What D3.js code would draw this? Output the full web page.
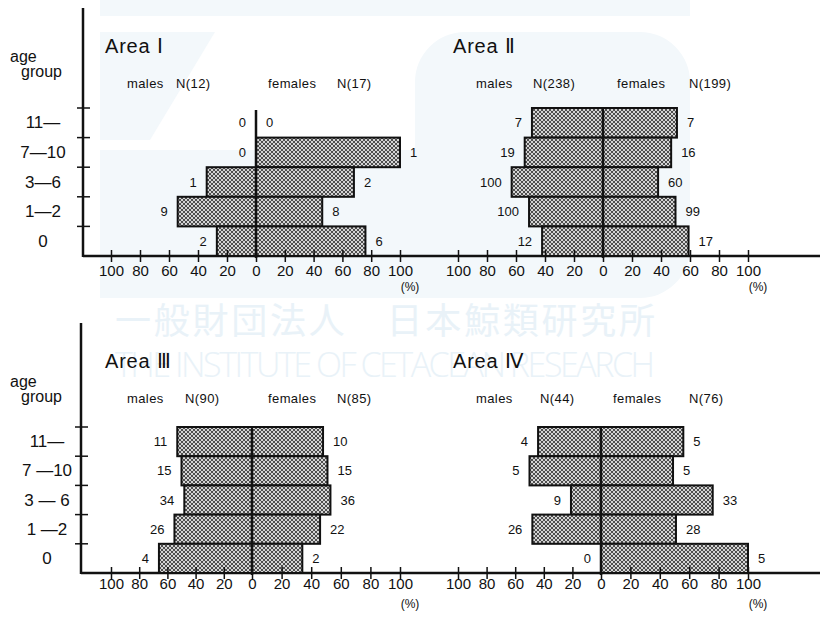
<!DOCTYPE html>
<html>
<head>
<meta charset="utf-8">
<script src="https://cdn.jsdelivr.net/npm/d3@7"></script>
<style>
  body { margin: 0; background: #fff; }
  svg { display: block; }
  text { fill: #111; font-family: "Liberation Sans", Arial, sans-serif; }
</style>
</head>
<body>
<script>
// age groups, oldest (top row) first
var ageKeys = ["11", "7-10", "3-6", "1-2", "0"];
var ageLabelsUpper = ["11—", "7—10", "3—6", "1—2", "0"];
var ageLabelsLower = ["11—", "7 —10", "3 — 6", "1 —2", "0"];

var areaNames = ["Area Ⅰ", "Area Ⅱ", "Area Ⅲ", "Area Ⅳ"];
var maleN = [12, 238, 90, 44];
var femaleN = [17, 199, 85, 76];

// percentages (bar lengths)
var malePct1 = [0, 0, 34, 54, 27];
var femalePct1 = [0, 100, 68, 46, 76];
var malePct2 = [49, 54, 63, 51, 42];
var femalePct2 = [51, 47, 38, 50, 59];
var malePct3 = [53, 50, 48, 55, 66];
var femalePct3 = [48, 51, 53, 46, 34];
var malePct4 = [44, 50, 21, 48, 0];
var femalePct4 = [56, 49, 76, 51, 100];

// numbers of animals written beside the bars
var maleCount1 = [0, 0, 1, 9, 2];
var femaleCount1 = [0, 1, 2, 8, 6];
var maleCount2 = [7, 19, 100, 100, 12];
var femaleCount2 = [7, 16, 60, 99, 17];
var maleCount3 = [11, 15, 34, 26, 4];
var femaleCount3 = [10, 15, 36, 22, 2];
var maleCount4 = [4, 5, 9, 26, 0];
var femaleCount4 = [5, 5, 33, 28, 5];

var pctTicks = [-100, -80, -60, -40, -20, 0, 20, 40, 60, 80, 100];

var svgWidth = 820;
var svgHeight = 619;

var svg = d3.select("body")
  .append("svg")
  .attr("width", svgWidth)
  .attr("height", svgHeight);

// hatched fill for the bars
var pat = svg.append("defs").append("pattern")
  .attr("id", "stip")
  .attr("width", 4)
  .attr("height", 4)
  .attr("patternUnits", "userSpaceOnUse");
pat.append("rect").attr("width", 4).attr("height", 4).attr("fill", "#d4d4d4");
pat.append("path")
  .attr("d", "M0,4L4,0M-1,1L1,-1M3,5L5,3M0,0L4,4M-1,3L1,5M3,-1L5,1")
  .attr("stroke", "#222")
  .attr("stroke-width", 0.75);

// faint watermark in the scan
var wm = svg.append("g").attr("fill", "#f3f8fb");
wm.append("rect").attr("x", 100).attr("y", 0).attr("width", 590).attr("height", 16);
wm.append("polygon").attr("points", "100,32 215,32 150,140 100,140");
wm.append("rect").attr("x", 100).attr("y", 150).attr("width", 370).attr("height", 148);
wm.append("rect").attr("x", 415).attr("y", 32).attr("width", 275).attr("height", 266).attr("rx", 50);
svg.append("text")
  .attr("x", 385).attr("y", 334)
  .attr("text-anchor", "middle")
  .attr("textLength", 540)
  .style("font-family", "'Noto Sans CJK JP', sans-serif")
  .style("font-size", "36px")
  .style("fill", "#e9f2f8")
  .text("一般財団法人　日本鯨類研究所");
svg.append("text")
  .attr("x", 385).attr("y", 377)
  .attr("text-anchor", "middle")
  .attr("textLength", 540)
  .style("font-family", "'Open Sans', sans-serif")
  .style("font-weight", 300)
  .style("font-size", "34px")
  .style("fill", "#e9f2f8")
  .text("THE INSTITUTE OF CETACEAN RESEARCH");

// the two rows of the figure
var rows = [
  { axisX: 83, top: 8, bandTop: 108, base: 256, tickPad: 9, ageLabels: ageLabelsUpper, ageX: 43, ageY: 62 },
  { axisX: 81, top: 323, bandTop: 427, base: 573, tickPad: 5, ageLabels: ageLabelsLower, ageX: 47, ageY: 387 }
];

var panels = [
  { row: 0, range: [111, 256, 400], male: malePct1, female: femalePct1, mc: maleCount1, fc: femaleCount1, titleX: 105, legX: [127, 176, 268, 337] },
  { row: 0, range: [458, 603, 748], male: malePct2, female: femalePct2, mc: maleCount2, fc: femaleCount2, titleX: 453, legX: [476, 533, 617, 689] },
  { row: 1, range: [111, 252, 400], male: malePct3, female: femalePct3, mc: maleCount3, fc: femaleCount3, titleX: 105, legX: [127, 185, 268, 337] },
  { row: 1, range: [458, 601, 748], male: malePct4, female: femalePct4, mc: maleCount4, fc: femaleCount4, titleX: 453, legX: [476, 540, 613, 689] }
];

rows.forEach(function(r) {
  var y = d3.scaleBand().domain(ageKeys).range([r.bandTop, r.base]);
  r.y = y;
  var g = svg.append("g");

  // vertical age axis
  g.append("line")
    .attr("x1", r.axisX).attr("x2", r.axisX)
    .attr("y1", r.top).attr("y2", r.base + 1)
    .attr("stroke", "#111").attr("stroke-width", 2.5);
  g.selectAll(".ytick")
    .data(ageKeys)
    .enter().append("line")
    .attr("x1", r.axisX - 6).attr("x2", r.axisX + 7)
    .attr("y1", d => y(d)).attr("y2", d => y(d))
    .attr("stroke", "#111").attr("stroke-width", 1.5);
  g.selectAll(".agelab")
    .data(ageKeys)
    .enter().append("text")
    .attr("x", r.ageX)
    .attr("y", d => y(d) + y.bandwidth() / 2)
    .attr("text-anchor", "middle")
    .attr("dominant-baseline", "central")
    .style("font-size", "17px")
    .text((d, i) => r.ageLabels[i]);

  g.append("text").attr("x", 10).attr("y", r.ageY).style("font-size", "16px").text("age");
  g.append("text").attr("x", 21).attr("y", r.ageY + 15).style("font-size", "16px").text("group");

  // long baseline
  g.append("line")
    .attr("x1", r.axisX).attr("x2", svgWidth)
    .attr("y1", r.base).attr("y2", r.base)
    .attr("stroke", "#111").attr("stroke-width", 2.5);
});

panels.forEach(function(p, k) {
  var r = rows[p.row];
  var y = r.y;
  var x = d3.scaleLinear().domain([-100, 0, 100]).range(p.range);
  var cx = x(0);
  var g = svg.append("g");

  g.append("text")
    .attr("x", p.titleX).attr("y", r.top + 45)
    .style("font-size", "20px")
    .style("letter-spacing", "0.8px")
    .text(areaNames[k]);

  var legY = r.top + 80;
  var leg = ["males", "N(" + maleN[k] + ")", "females", "N(" + femaleN[k] + ")"];
  g.selectAll(".leg")
    .data(leg)
    .enter().append("text")
    .attr("x", (d, i) => p.legX[i])
    .attr("y", legY)
    .style("font-size", "13px")
    .style("letter-spacing", "0.4px")
    .text(d => d);

  // males to the left, females to the right
  g.selectAll(".mbar")
    .data(ageKeys.filter((d, i) => p.male[i] > 0))
    .enter().append("rect")
    .attr("x", d => x(-p.male[ageKeys.indexOf(d)]))
    .attr("y", d => y(d))
    .attr("width", d => cx - x(-p.male[ageKeys.indexOf(d)]))
    .attr("height", y.bandwidth())
    .attr("fill", "url(#stip)")
    .attr("stroke", "#111")
    .attr("stroke-width", 2);

  g.selectAll(".fbar")
    .data(ageKeys.filter((d, i) => p.female[i] > 0))
    .enter().append("rect")
    .attr("x", cx)
    .attr("y", d => y(d))
    .attr("width", d => x(p.female[ageKeys.indexOf(d)]) - cx)
    .attr("height", y.bandwidth())
    .attr("fill", "url(#stip)")
    .attr("stroke", "#111")
    .attr("stroke-width", 2);

  g.selectAll(".mlab")
    .data(ageKeys)
    .enter().append("text")
    .attr("x", (d, i) => x(-p.male[i]) - 10)
    .attr("y", d => y(d) + y.bandwidth() / 2)
    .attr("text-anchor", "end")
    .attr("dominant-baseline", "central")
    .style("font-size", "13px")
    .text((d, i) => p.mc[i]);

  g.selectAll(".flab")
    .data(ageKeys)
    .enter().append("text")
    .attr("x", (d, i) => x(p.female[i]) + 10)
    .attr("y", d => y(d) + y.bandwidth() / 2)
    .attr("dominant-baseline", "central")
    .style("font-size", "13px")
    .text((d, i) => p.fc[i]);

  // centre line
  g.append("line")
    .attr("x1", cx).attr("x2", cx)
    .attr("y1", r.bandTop + 2).attr("y2", r.base + 2)
    .attr("stroke", "#111").attr("stroke-width", 2.5);

  // percent axis
  var axis = d3.axisBottom(x)
    .tickValues(pctTicks)
    .tickFormat(d => Math.abs(d))
    .tickSize(0)
    .tickPadding(r.tickPad);
  var ax = g.append("g")
    .attr("transform", `translate(0, ${r.base})`)
    .call(axis);
  ax.select(".domain").remove();
  ax.selectAll(".tick line")
    .attr("y1", -6).attr("y2", 6)
    .attr("stroke", "#111").attr("stroke-width", 1.5);
  ax.selectAll(".tick text")
    .attr("fill", "#111")
    .style("font-family", "'Liberation Sans', Arial, sans-serif")
    .style("font-size", "15px");

  g.append("text")
    .attr("x", x(100) + 10).attr("y", r.base + 35)
    .attr("text-anchor", "middle")
    .style("font-size", "12px")
    .text("(%)");
});
</script>
</body>
</html>
